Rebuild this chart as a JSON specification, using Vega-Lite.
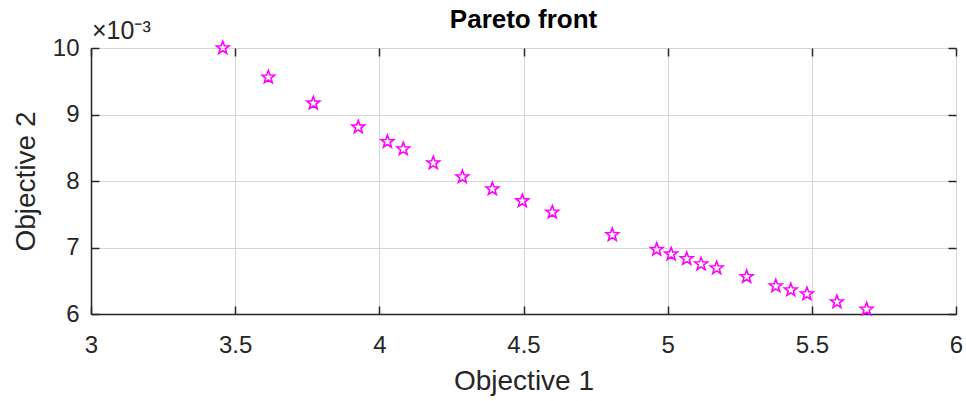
{
  "$schema": "https://vega.github.io/schema/vega-lite/v6.json",
  "width": 865,
  "height": 266,
  "autosize": "none",
  "padding": {"left": 91, "top": 48, "right": 10, "bottom": 87},
  "background": "white",
  "title": {"text": "Pareto front", "font": "Liberation Sans", "fontSize": 26, "fontWeight": "bold", "color": "#000000", "offset": -14, "anchor": "middle"},
  "config": {
    "view": {"stroke": "#cfcfcf", "strokeWidth": 1},
    "axis": {"labelFont": "Liberation Sans", "titleFont": "Liberation Sans", "labelFontSize": 24, "titleFontSize": 28, "labelColor": "#262626", "titleColor": "#262626", "titleFontWeight": "normal", "gridColor": "#d6d6d6", "gridWidth": 1, "domainColor": "#262626", "domainWidth": 1.5, "tickColor": "#262626", "tickWidth": 1.5, "tickSize": -8}
  },
  "resolve": {"axis": {"x": "independent", "y": "independent"}},
  "layer": [
    {
      "data": {"values": [
        {"obj1": 3.457, "obj2": 0.01000},
        {"obj1": 3.615, "obj2": 0.00956},
        {"obj1": 3.771, "obj2": 0.00917},
        {"obj1": 3.927, "obj2": 0.00881},
        {"obj1": 4.028, "obj2": 0.00859},
        {"obj1": 4.083, "obj2": 0.00848},
        {"obj1": 4.187, "obj2": 0.00827},
        {"obj1": 4.288, "obj2": 0.00806},
        {"obj1": 4.392, "obj2": 0.00788},
        {"obj1": 4.496, "obj2": 0.00770},
        {"obj1": 4.600, "obj2": 0.00753},
        {"obj1": 4.808, "obj2": 0.00719},
        {"obj1": 4.962, "obj2": 0.00697},
        {"obj1": 5.012, "obj2": 0.00690},
        {"obj1": 5.066, "obj2": 0.00683},
        {"obj1": 5.116, "obj2": 0.00675},
        {"obj1": 5.170, "obj2": 0.00669},
        {"obj1": 5.274, "obj2": 0.00656},
        {"obj1": 5.375, "obj2": 0.00642},
        {"obj1": 5.427, "obj2": 0.00636},
        {"obj1": 5.483, "obj2": 0.00630},
        {"obj1": 5.587, "obj2": 0.00618},
        {"obj1": 5.690, "obj2": 0.00607}
      ]},
      "mark": {"type": "point", "shape": "M0,-1L0.247,-0.34L0.951,-0.309L0.399,0.13L0.588,0.809L0,0.42L-0.588,0.809L-0.399,0.13L-0.951,-0.309L-0.247,-0.34Z", "filled": false, "color": "#ff00ff", "strokeWidth": 1.6, "size": 180, "opacity": 1, "clip": false},
      "encoding": {
        "x": {"field": "obj1", "type": "quantitative", "scale": {"domain": [3, 6], "nice": false, "zero": false}, "axis": {"title": "Objective 1", "values": [3, 3.5, 4, 4.5, 5, 5.5, 6], "labelExpr": "format(datum.value, '~g')", "grid": true, "labelPadding": 27, "titlePadding": 10, "labelFlush": false}},
        "y": {"field": "obj2", "type": "quantitative", "scale": {"domain": [0.006, 0.010], "nice": false, "zero": false}, "axis": {"title": "Objective 2", "values": [0.006, 0.007, 0.008, 0.009, 0.010], "labelExpr": "format(datum.value * 1000, 'd')", "grid": true, "labelPadding": 20, "titlePadding": 12, "labelFlush": false}}
      }
    },
    {
      "data": {"values": [{"label": "×10⁻³", "x0": 3, "y0": 0.010}]},
      "mark": {"type": "text", "font": "Liberation Sans", "fontSize": 25, "color": "#262626", "align": "left", "baseline": "bottom", "dx": 1, "dy": -4},
      "encoding": {
        "text": {"field": "label"},
        "x": {"field": "x0", "type": "quantitative", "axis": {"orient": "top", "values": [3, 3.5, 4, 4.5, 5, 5.5, 6], "labels": false, "grid": false, "domain": false, "title": null}},
        "y": {"field": "y0", "type": "quantitative", "axis": {"orient": "right", "values": [0.006, 0.007, 0.008, 0.009, 0.010], "labels": false, "grid": false, "domain": false, "title": null}}
      }
    }
  ]
}
